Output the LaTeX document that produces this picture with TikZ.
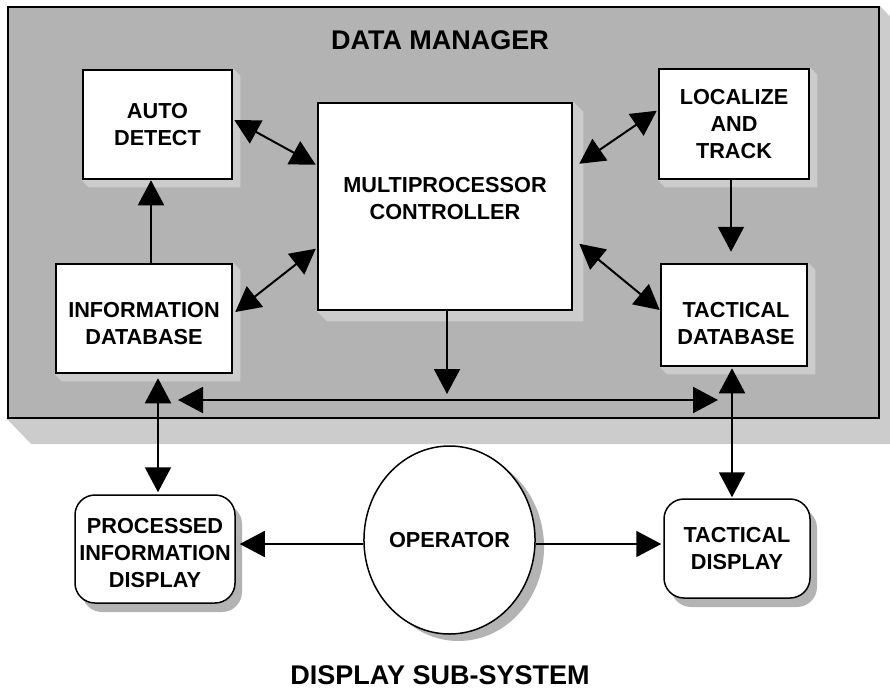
\documentclass[tikz,border=0pt]{standalone}
\usepackage{fontspec}
\setmainfont{Liberation Sans}
\usetikzlibrary{arrows.meta,shapes.geometric,shadows,calc}
\definecolor{dmgray}{HTML}{B3B3B3}
\definecolor{lightsh}{HTML}{CCCCCC}
\definecolor{darksh}{HTML}{B3B3B3}
\pgfdeclarelayer{l0}\pgfdeclarelayer{l1}\pgfdeclarelayer{l2}
\pgfsetlayers{l0,l1,l2,main}
\begin{document}
\begin{tikzpicture}[x=1pt,y=-1pt,
  boxtext/.style={font=\bfseries\fontsize{21.7}{27}\selectfont, align=center, inner sep=0pt},
  dmbox/.style={boxtext, draw, line width=2.5pt, fill=white, rectangle},
  dispbox/.style={boxtext, draw, line width=1.5pt, fill=white, rounded corners=20pt,
    drop shadow={shadow xshift=7pt, shadow yshift=-9pt, fill=darksh, opacity=1}},
  opnode/.style={boxtext, draw, ellipse, line width=1.5pt, fill=white,
    drop shadow={shadow xshift=9pt, shadow yshift=-7pt, fill=darksh, opacity=1}},
  conn/.style={line width=2pt, -{Triangle[length=25pt,width=26pt]}},
  dconn/.style={line width=2pt, {Triangle[length=25pt,width=26pt]}-{Triangle[length=25pt,width=26pt]}},
  bconn/.style={line width=1.7pt, -{Triangle[length=25pt,width=26pt]}},
  titletext/.style={font=\bfseries\fontsize{27}{32}\selectfont, inner sep=0pt, anchor=base}
]
\useasboundingbox (0,0) rectangle (890,688);

% data manager frame
\begin{pgfonlayer}{l1}
\node[draw, line width=2pt, fill=dmgray, minimum width=871pt, minimum height=411pt, inner sep=0pt] (dm) at (443.5,212.5) {};
\end{pgfonlayer}
\begin{pgfonlayer}{l0}
\fill[lightsh] (dm.north east) -- ++(24,25) |- ($(dm.south west)+(24,25)$) -- (dm.south west) -- cycle;
\end{pgfonlayer}

\node[titletext] (dmtitle) at (440,49) {DATA MANAGER};

% boxes
\node[dmbox, minimum width=149pt, minimum height=109pt] (auto) at (157.5,124.5) {AUTO\\DETECT};
\node[dmbox, minimum width=254pt, minimum height=207pt,
  label={[boxtext, yshift=8pt]center:MULTIPROCESSOR\\CONTROLLER}] (mp) at (445,206.5) {};
\node[dmbox, minimum width=150pt, minimum height=110pt] (loc) at (734,124) {LOCALIZE\\AND\\TRACK};
\node[dmbox, minimum width=176pt, minimum height=109pt,
  label={[boxtext, yshift=-5pt]center:INFORMATION\\DATABASE}] (info) at (144,318.5) {};
\node[dmbox, minimum width=146pt, minimum height=102pt,
  label={[boxtext, xshift=2pt, yshift=-8.5pt]center:TACTICAL\\DATABASE}] (tac) at (734,315) {};

\begin{pgfonlayer}{l2}
\foreach \n/\d in {auto/7,mp/10,loc/7,info/7,tac/7}{
  \fill[lightsh] (\n.north east) -- ++(\d,\d) |- ($(\n.south west)+(\d,\d)$) -- (\n.south west) -- cycle;
}
\end{pgfonlayer}

% display sub-system
\node[dispbox, minimum width=160pt, minimum height=108pt,
  label={[boxtext, yshift=-4pt]center:PROCESSED\\INFORMATION\\DISPLAY}] (pid) at (155,549) {};
\node[dispbox, minimum width=146pt, minimum height=99pt] (td) at (737,548.5) {TACTICAL\\DISPLAY};
\node[opnode, minimum width=165pt, minimum height=188pt] (op) at (449.5,540) {OPERATOR};

\node[titletext] (dstitle) at (440,684) {DISPLAY SUB-SYSTEM};

% connectors inside data manager
\draw[conn] ($(info.north)+(7,0)$) -- ($(auto.south)+(-6.5,0)$);
\draw[dconn] ($(auto.east)+(1,-4.5)$) -- ($(mp.north west)+(-1,63)$);
\draw[dconn] ($(info.east)+(2,-6.5)$) -- ($(mp.north west)+(-1,147)$);
\draw[dconn] ($(loc.north west)+(-1,43)$) -- ($(mp.north east)+(6,62)$);
\draw[dconn] ($(mp.north east)+(6,142)$) -- ($(tac.west)+(0,-5)$);
\draw[conn, shorten >=11pt] ($(loc.south)+(-3,0)$) -- ($(tac.north)+(-3,0)$);

\coordinate (busL) at (178,400);
\coordinate (busR) at (718,400);
\draw[dconn] (busL) -- (busR);
\coordinate (mpb) at ($(mp.south)+(2,0)$);
\draw[conn, shorten >=6pt] (mpb) -- (mpb |- busL);

% connectors to display sub-system
\draw[dconn] ($(info.south)+(14,4)$) -- ($(pid.north)+(3,-2)$);
\draw[dconn] ($(tac.south)+(-2,1)$) -- ($(td.north)+(-5,-1)$);
\draw[bconn] ($(op.west)+(0,4)$) -- ($(pid.east)+(4,-5)$);
\draw[bconn] ($(op.east)+(0,4)$) -- ($(td.west)+(-2,-4.5)$);
\end{tikzpicture}
\end{document}
